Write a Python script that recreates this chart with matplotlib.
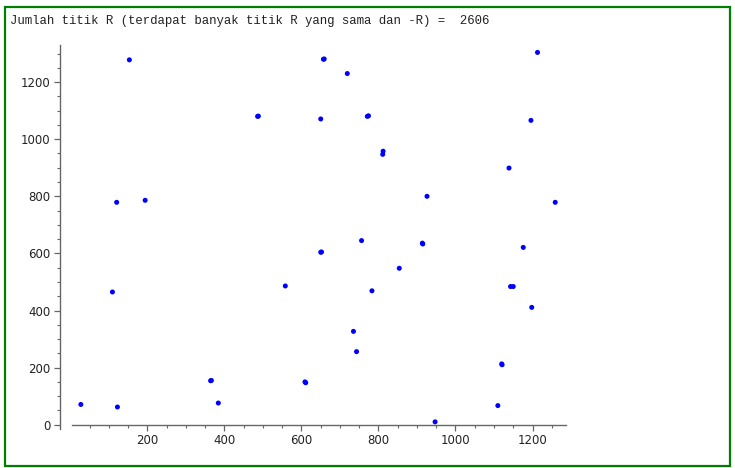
import matplotlib
matplotlib.use('Agg')
import matplotlib.pyplot as plt
from matplotlib.patches import Rectangle
from matplotlib.ticker import MultipleLocator

# titik R (x, y); near-duplicates drawn as separate points
xs = [27, 122, 109, 120, 194, 153, 486, 488, 364, 366, 384, 558, 609, 611,
      650, 650, 652, 657, 659, 719, 735, 743, 756, 771, 774, 783, 812, 811,
      854, 926, 914, 915, 947, 1110, 1120, 1121, 1139, 1143, 1150, 1176,
      1196, 1198, 1213, 1259]
ys = [71, 62, 465, 779, 786, 1278, 1080, 1081, 154, 155, 76, 486, 150, 147,
      1071, 604, 605, 1280, 1281, 1230, 327, 256, 645, 1080, 1082, 469, 958,
      947, 548, 800, 636, 633, 10, 67, 213, 210, 899, 484, 484, 621, 1066,
      411, 1304, 779]

judul = "Jumlah titik R (terdapat banyak titik R yang sama dan -R) =  2606"

W, H = 735, 468
fig = plt.figure(figsize=(W / 100, H / 100), dpi=100)

# green frame around the output cell
fig.patches.append(Rectangle((5 / W, 1 - 466 / H), 725 / W, 459.5 / H,
                             transform=fig.transFigure, fill=False,
                             edgecolor='#008000', linewidth=1.6))
fig.text(10 / W, 1 - 21 / H, judul, family=['Liberation Mono', 'DejaVu Sans Mono'],
         fontsize=8.95, color='#222222', va='center', ha='left')

ax = fig.add_axes([72 / W, 1 - 429 / H, 494 / W, 384 / H])
ax.scatter(xs, ys, s=13, color='#0000ff', edgecolors='none', zorder=3)

ax.set_xlim(4, 1287)
ax.set_ylim(-15, 1330)

ax.spines['top'].set_visible(False)
ax.spines['right'].set_visible(False)
ax.spines['bottom'].set_position(('data', 0))
ax.spines['left'].set_position(('outward', 8.6))
for s in ('bottom', 'left'):
    ax.spines[s].set_color('#666666')
    ax.spines[s].set_linewidth(1.0)

ax.xaxis.set_major_locator(MultipleLocator(200))
ax.xaxis.set_minor_locator(MultipleLocator(50))
ax.yaxis.set_major_locator(MultipleLocator(200))
ax.yaxis.set_minor_locator(MultipleLocator(50))
ax.tick_params(which='major', length=4, width=0.9, color='#666666',
               labelsize=8.5, labelcolor='#222222', pad=3)
ax.tick_params(which='minor', length=2.5, width=0.8, color='#666666')

fig.savefig('out.png', dpi=100)
